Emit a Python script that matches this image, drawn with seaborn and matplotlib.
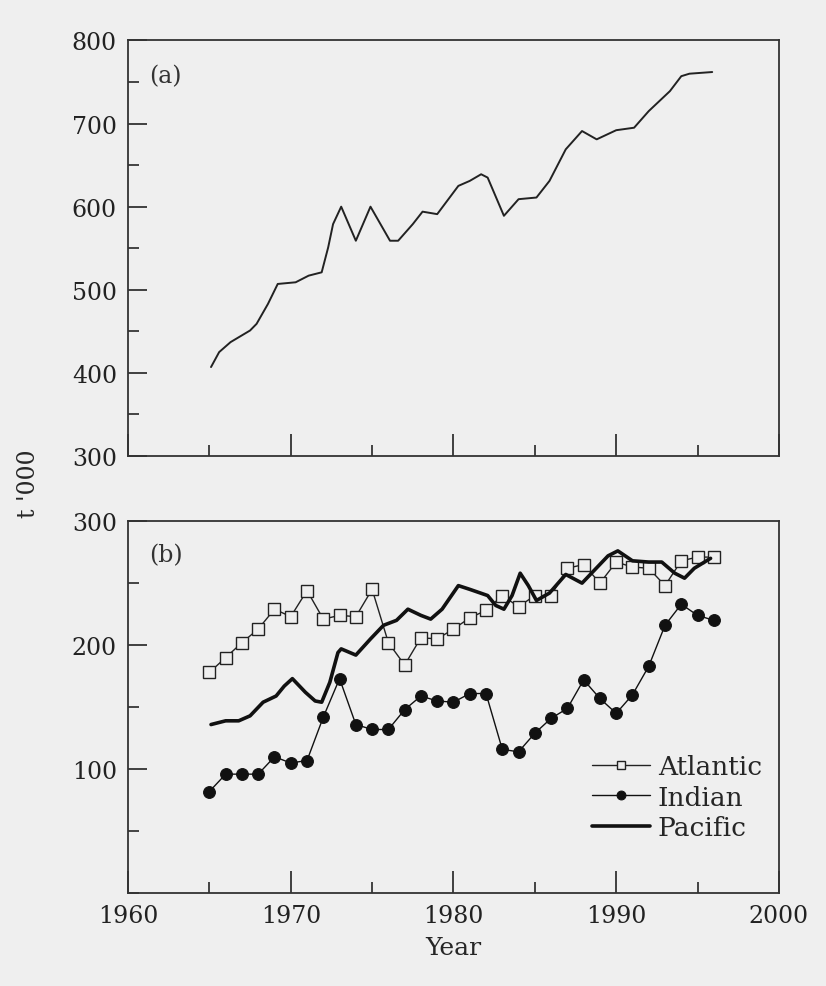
import numpy as np
import pandas as pd
import seaborn as sns
import matplotlib.pyplot as plt
from matplotlib.ticker import MultipleLocator

# panel (a): total catch
years_total = [1965.1, 1965.6, 1966.3, 1966.9, 1967.5, 1967.9, 1968.6, 1969.2, 1970.3, 1971.1,
               1971.9, 1972.3, 1972.6, 1973.1, 1974.0, 1974.9, 1976.1, 1976.6, 1977.5, 1978.1,
               1979.0, 1980.3, 1981.0, 1981.7, 1982.1, 1983.1, 1984.0, 1985.1, 1985.9, 1986.9,
               1987.9, 1988.8, 1990.0, 1991.1, 1992.0, 1993.3, 1994.0, 1994.5, 1995.9]
total = [407, 425, 437, 444, 451, 459, 483, 507, 509, 517,
         521, 551, 579, 600, 559, 600, 559, 559, 579, 594,
         591, 625, 631, 639, 635, 589, 609, 611, 631, 669,
         691, 681, 692, 695, 715, 739, 757, 760, 762]

# panel (b): by ocean
years = list(range(1965, 1997))
atlantic = [178, 190, 202, 213, 229, 223, 244, 221, 224, 223,
            245, 202, 184, 206, 205, 213, 222, 228, 240, 231,
            240, 240, 262, 265, 250, 267, 263, 262, 248, 268,
            271, 271]
indian = [82, 96, 96, 96, 110, 105, 107, 142, 173, 136,
          132, 132, 148, 159, 155, 154, 161, 161, 116, 114,
          129, 141, 149, 172, 157, 145, 160, 183, 216, 233,
          224, 220]
years_pacific = [1965.1, 1966.0, 1966.8, 1967.5, 1968.3, 1969.1, 1969.6, 1970.1, 1970.9, 1971.5,
                 1971.9, 1972.4, 1972.9, 1973.1, 1974.0, 1974.9, 1975.7, 1976.5, 1977.2, 1978.0,
                 1978.6, 1979.3, 1980.3, 1981.0, 1982.1, 1982.6, 1983.1, 1983.6, 1984.1, 1984.6,
                 1985.1, 1985.9, 1986.9, 1987.9, 1988.7, 1989.5, 1990.1, 1991.0, 1992.0, 1992.8,
                 1993.6, 1994.2, 1994.8, 1995.8]
pacific = [136, 139, 139, 143, 154, 159, 167, 173, 162, 155,
           154, 170, 194, 197, 192, 205, 216, 220, 229, 224,
           221, 229, 248, 245, 240, 232, 229, 240, 258, 248,
           236, 242, 257, 250, 261, 272, 276, 268, 267, 267,
           258, 254, 262, 270]

bg = "#efefef"
sns.set_style("ticks")
plt.rcParams["font.family"] = ["DejaVu Serif"]
plt.rcParams["xtick.direction"] = "in"
plt.rcParams["ytick.direction"] = "in"

fig = plt.figure(figsize=(8.26, 9.87), dpi=100, facecolor=bg)
ax1 = fig.add_axes([0.155, 0.537, 0.788, 0.421], facecolor=bg)
ax2 = fig.add_axes([0.155, 0.094, 0.788, 0.377], facecolor=bg)

df_a = pd.DataFrame({"Year": years_total, "t": total})
sns.lineplot(data=df_a, x="Year", y="t", ax=ax1, color="#222222", lw=1.4)

df_b = pd.DataFrame({"Year": years, "Atlantic": atlantic, "Indian": indian})
sns.lineplot(data=df_b, x="Year", y="Atlantic", ax=ax2, color="#222222", lw=1.0,
             marker="s", markersize=8.5, markerfacecolor=bg, markeredgecolor="#222222",
             markeredgewidth=1.0, label="Atlantic")
sns.lineplot(data=df_b, x="Year", y="Indian", ax=ax2, color="#111111", lw=1.0,
             marker="o", markersize=8.5, markerfacecolor="#111111", markeredgecolor="#111111",
             label="Indian")
df_p = pd.DataFrame({"Year": years_pacific, "Pacific": pacific})
sns.lineplot(data=df_p, x="Year", y="Pacific", ax=ax2, color="#111111", lw=2.6, label="Pacific")

for ax in (ax1, ax2):
    ax.set_xlim(1960, 2000)
    ax.xaxis.set_major_locator(MultipleLocator(10))
    ax.xaxis.set_minor_locator(MultipleLocator(5))
    ax.yaxis.set_major_locator(MultipleLocator(100))
    ax.yaxis.set_minor_locator(MultipleLocator(50))
    ax.tick_params(which="major", length=16, width=1.2, labelsize=17, pad=8, colors="#222222")
    ax.tick_params(which="minor", length=8, width=1.2)
    ax.tick_params(axis="y", which="major", length=14)
    ax.tick_params(top=False, right=False, which="both")
    for s in ax.spines.values():
        s.set_linewidth(1.3)
        s.set_color("#333333")
    ax.set_xlabel("")
    ax.set_ylabel("")

ax1.set_ylim(300, 800)
ax1.tick_params(labelbottom=False)
ax2.set_ylim(0, 300)
ax2.set_yticks([100, 200, 300])
ax2.set_xticks([1960, 1970, 1980, 1990, 2000])

ax1.text(1961.3, 757, "(a)", fontsize=17, va="center", color="#333333")
ax2.text(1961.3, 273, "(b)", fontsize=17, va="center", color="#333333")

ax2.legend(loc="lower right", bbox_to_anchor=(0.99, 0.115), frameon=False, fontsize=19,
           handlelength=2.2, handletextpad=0.3, labelspacing=0.2, borderaxespad=0,
           markerscale=0.75)

ax2.set_xlabel("Year", fontsize=18, labelpad=6)
fig.text(0.035, 0.51, "t '000", rotation=90, fontsize=17, va="center", ha="center")

fig.savefig("out.png", dpi=100, facecolor=bg)
